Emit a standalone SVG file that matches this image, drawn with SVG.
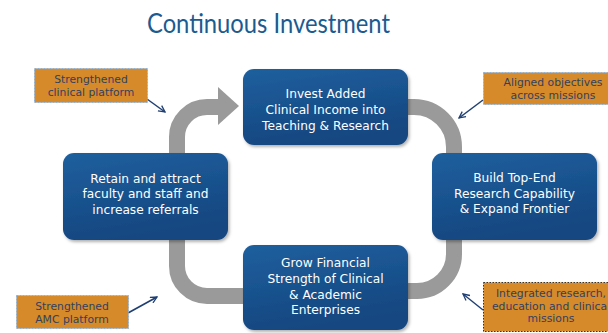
<svg xmlns="http://www.w3.org/2000/svg" width="608" height="333" viewBox="0 0 608 333">
<defs>
<linearGradient id="nodeGrad" x1="0" y1="0" x2="0.3" y2="1">
<stop offset="0" stop-color="#1f5f9e"/>
<stop offset="1" stop-color="#134780"/>
</linearGradient>
<filter id="shadow" x="-10%" y="-10%" width="125%" height="130%">
<feDropShadow dx="1.5" dy="2" stdDeviation="1.5" flood-color="#000" flood-opacity="0.3"/>
</filter>
<marker id="arr" viewBox="0 0 10 10" refX="9" refY="5" markerWidth="8" markerHeight="8" markerUnits="userSpaceOnUse" orient="auto">
<path d="M1,1 L9,5 L1,9" fill="none" stroke="#1f3f72" stroke-width="1.6"/>
</marker>
<style>
.title{font-family:Lato,"Liberation Sans",sans-serif;font-size:27px;fill:#1b5b90}
.node rect{fill:url(#nodeGrad);filter:url(#shadow)}
.node text{font-family:"DejaVu Sans",Verdana,sans-serif;font-size:12.2px;fill:#ffffff;text-anchor:middle}
.ring{fill:none;stroke:#9a9a9a;stroke-width:16}
.callout rect{fill:#d68a2a;stroke:#8fb2d6;stroke-width:1;stroke-dasharray:2 1}
.callout text{font-family:"DejaVu Sans",Verdana,sans-serif;font-size:10.8px;fill:#33415e;text-anchor:middle}
.pointer{fill:none;stroke:#1f3f72;stroke-width:1.5;marker-end:url(#arr)}
</style>
</defs>
<rect width="608" height="333" fill="#ffffff"/>
<text class="title" x="268.5" y="33" text-anchor="middle" textLength="243" lengthAdjust="spacingAndGlyphs">Continuous Investment</text>

<g id="connectors">
<path class="ring" d="M177,160 L177,137 A30,30 0 0 1 207,107 L220,107"/>
<polygon points="218,87 239,106 218,125" fill="#9a9a9a"/>
<path class="ring" d="M400,107 L414,107 A40,40 0 0 1 454,147 L454,160"/>
<path class="ring" d="M454,235 L454,254 A37,37 0 0 1 417,291 L400,291"/>
<path class="ring" d="M250,296 L207,296 A30,30 0 0 1 177,266 L177,235"/>
<path class="pointer" d="M147,99 L165,112"/>
<path class="pointer" d="M483,100 L459,118"/>
<path class="pointer" d="M128,313 L157,297"/>
<path class="pointer" d="M483,310 L463,294"/>
</g>

<g id="node-invest" class="node">
<rect x="243" y="69" width="165" height="76" rx="11"/>
<text x="325.5" y="98">Invest Added</text>
<text x="325.5" y="114">Clinical Income into</text>
<text x="325.5" y="129.5">Teaching &amp; Research</text>
</g>
<g id="node-retain" class="node">
<rect x="63" y="153" width="165" height="87" rx="11"/>
<text x="145.5" y="183">Retain and attract</text>
<text x="145.5" y="198">faculty and staff and</text>
<text x="145.5" y="213.5">increase referrals</text>
</g>
<g id="node-build" class="node">
<rect x="432" y="153" width="165" height="87" rx="11"/>
<text x="514.5" y="182">Build Top-End</text>
<text x="514.5" y="197.5">Research Capability</text>
<text x="514.5" y="213">&amp; Expand Frontier</text>
</g>
<g id="node-grow" class="node">
<rect x="243" y="245" width="165" height="85" rx="11"/>
<text x="325.5" y="267">Grow Financial</text>
<text x="325.5" y="283">Strength of Clinical</text>
<text x="325.5" y="298.5">&amp; Academic</text>
<text x="325.5" y="314">Enterprises</text>
</g>

<g id="callout-clinical" class="callout">
<rect x="34.5" y="68.5" width="113" height="34"/>
<text x="91" y="83">Strengthened</text>
<text x="91" y="96">clinical platform</text>
</g>
<g id="callout-aligned" class="callout">
<rect x="483.5" y="72.5" width="128" height="32"/>
<text x="553" y="86">Aligned objectives</text>
<text x="553" y="99">across missions</text>
</g>
<g id="callout-amc" class="callout">
<rect x="16.5" y="295.5" width="112" height="33"/>
<text x="72" y="310">Strengthened</text>
<text x="72" y="323">AMC platform</text>
</g>
<g id="callout-integrated" class="callout">
<rect x="483.5" y="282.5" width="130" height="49" style="stroke:#333;stroke-dasharray:1.5 1.5"/>
<text x="551" y="297">Integrated research,</text>
<text x="551" y="309.5">education and clinical</text>
<text x="551" y="322">missions</text>
</g>
</svg>
